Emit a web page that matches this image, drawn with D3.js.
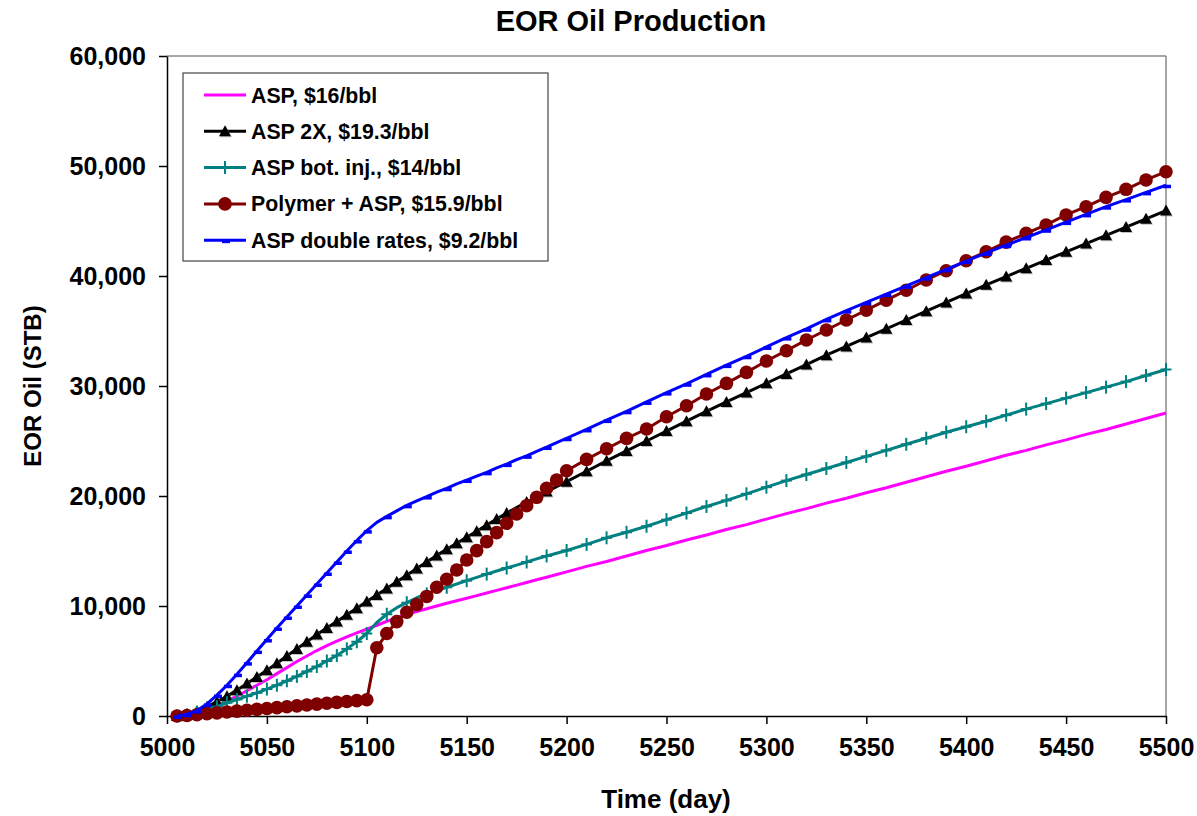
<!DOCTYPE html>
<html><head><meta charset="utf-8">
<script src="https://cdn.jsdelivr.net/npm/d3@7"></script>
<style>
body{margin:0;background:#fff}
svg{display:block}
text{font-family:Arial,"Liberation Sans",sans-serif;font-weight:bold;fill:#000}
</style>
</head><body>
<svg id="chart" width="1197" height="816"></svg>
<script>
const days = [
5005,5010,5015,5020,5025,5030,5035,5040,5045,5050,
5055,5060,5065,5070,5075,5080,5085,5090,5095,5100,
5105,5110,5115,5120,5125,5130,5135,5140,5145,5150,
5155,5160,5165,5170,5175,5180,5185,5190,5195,5200,
5210,5220,5230,5240,5250,5260,5270,5280,5290,5300,
5310,5320,5330,5340,5350,5360,5370,5380,5390,5400,
5410,5420,5430,5440,5450,5460,5470,5480,5490,5500];

const aspValues = [
0,100,300,600,950,1350,1800,2300,2800,3300,
3850,4400,4950,5450,5950,6400,6800,7200,7550,7900,
8250,8600,8950,9250,9500,9750,10000,10250,10480,10700,
10940,11180,11420,11660,11900,12140,12380,12620,12860,13100,
13600,14050,14550,15050,15500,16000,16450,16950,17400,17900,
18400,18850,19350,19800,20300,20750,21250,21750,22250,22700,
23200,23700,24150,24650,25100,25600,26050,26550,27050,27550];

const asp2xValues = [
0,150,450,850,1300,1800,2350,2950,3550,4150,
4800,5450,6100,6750,7400,8000,8600,9200,9800,10400,
11000,11600,12200,12800,13400,14000,14600,15150,15700,16250,
16800,17350,17900,18450,18950,19450,19900,20400,20850,21300,
22250,23200,24100,25000,25900,26800,27700,28550,29400,30250,
31100,31950,32800,33600,34400,35200,36000,36800,37600,38400,
39200,39950,40700,41450,42200,42950,43700,44450,45200,45950];

const botInjValues = [
0,100,300,550,850,1200,1500,1800,2100,2450,
2800,3200,3600,4050,4500,5000,5500,6100,6750,7500,
8500,9250,9850,10300,10750,11100,11400,11700,12000,12300,
12600,12900,13180,13450,13720,14000,14280,14550,14800,15050,
15600,16200,16700,17250,17850,18450,19050,19600,20200,20800,
21400,21950,22500,23050,23600,24150,24700,25250,25800,26300,
26800,27350,27900,28400,28900,29400,29900,30400,30950,31500];

const polymerValues = [
0,50,120,200,280,360,440,520,600,680,
760,840,920,1000,1080,1160,1240,1320,1400,1480,
6200,7500,8580,9430,10130,10870,11700,12430,13270,14180,
15030,15850,16670,17520,18360,19120,19880,20700,21450,22300,
23330,24300,25240,26090,27210,28210,29270,30240,31240,32270,
33210,34180,35090,36000,36900,37800,38700,39640,40480,41390,
42210,43080,43880,44640,45550,46300,47150,47880,48730,49480];

const doubleRateValues = [
0,150,500,1100,1900,2800,3800,4850,5900,6950,
8000,9000,10000,11000,12000,13000,14000,15000,15950,16850,
17600,18150,18650,19150,19550,19950,20350,20700,21100,21450,
21800,22150,22550,22900,23300,23650,24050,24450,24850,25250,
26050,26900,27700,28550,29400,30200,31050,31900,32700,33550,
34400,35200,36050,36850,37600,38350,39100,39850,40600,41350,
42100,42800,43500,44200,44900,45600,46300,46950,47600,48250];

const seriesNames = ["ASP, $16/bbl","ASP 2X, $19.3/bbl","ASP bot. inj., $14/bbl","Polymer + ASP, $15.9/bbl","ASP double rates, $9.2/bbl"];
const xTicks = [5000,5050,5100,5150,5200,5250,5300,5350,5400,5450,5500];
const yTicks = [0,10000,20000,30000,40000,50000,60000];

const series = [
  {name:seriesNames[0], values:aspValues, color:"#FF00FF", marker:"none", fineUntil:0},
  {name:seriesNames[1], values:asp2xValues, color:"#000000", marker:"triangle", fineUntil:5170},
  {name:seriesNames[2], values:botInjValues, color:"#008080", marker:"cross", fineUntil:5100},
  {name:seriesNames[3], values:polymerValues, color:"#800000", marker:"circle", fineUntil:5200},
  {name:seriesNames[4], values:doubleRateValues, color:"#0000FF", marker:"dash", fineUntil:5100}
];

const svg = d3.select("#chart");
svg.append("rect").attr("width",1197).attr("height",816).attr("fill","#fff");

const x = d3.scaleLinear().domain([5000,5500]).range([167,1166]);
const y = d3.scaleLinear().domain([0,60000]).range([716,56]);

// plot frame (top/right grey)
svg.append("line").attr("x1",x(5000)).attr("x2",x(5500)).attr("y1",y(60000)).attr("y2",y(60000)).attr("stroke","#888").attr("stroke-width",1.5);
svg.append("line").attr("x1",x(5500)).attr("x2",x(5500)).attr("y1",y(60000)).attr("y2",y(0)).attr("stroke","#888").attr("stroke-width",1.5);

const yAxis = svg.append("g").attr("transform",`translate(${x(5000)},0)`)
  .call(d3.axisLeft(y).tickValues(yTicks).tickSize(8).tickSizeOuter(0).tickPadding(13).tickFormat(d3.format(",")));
const xAxis = svg.append("g").attr("transform",`translate(0,${y(0)})`)
  .call(d3.axisBottom(x).tickValues(xTicks).tickSize(8).tickSizeOuter(0).tickPadding(14).tickFormat(d3.format("d")));
[xAxis,yAxis].forEach(g=>{
  g.selectAll("path,line").attr("stroke","#000").attr("stroke-width",1.5);
  g.selectAll("text").style("font-size","25px").style("font-family","Arial, 'Liberation Sans', sans-serif").style("font-weight","bold").attr("fill","#000");
});

function drawMarker(g, type, color){
  if(type==="triangle"){
    g.append("path").attr("d","M1,-5 L7,6 L-5,6 Z").attr("fill","#999").attr("opacity",0.6);
    g.append("path").attr("d","M0,-6 L6,5 L-6,5 Z").attr("fill",color);
  } else if(type==="circle"){
    g.append("circle").attr("r",6.8).attr("fill",color);
  } else if(type==="cross"){
    g.append("line").attr("x1",0).attr("x2",0).attr("y1",-6.5).attr("y2",6.5).attr("stroke",color).attr("stroke-width",2);
    g.append("line").attr("x1",-5.5).attr("x2",5.5).attr("y1",0).attr("y2",0).attr("stroke",color).attr("stroke-width",2);
  } else if(type==="dash"){
    g.append("rect").attr("x",-3).attr("y",-0.5).attr("width",8).attr("height",3.5).attr("fill",color);
  }
}

const line = d3.line().x(d=>x(d[0])).y(d=>y(d[1]));
series.forEach(s=>{
  const pts = days.map((d,i)=>[d,s.values[i]]);
  svg.append("path").datum(pts).attr("d",line).attr("fill","none").attr("stroke",s.color).attr("stroke-width",3).attr("stroke-linejoin","round");
  if(s.marker!=="none"){
    pts.filter(p=>p[0]<=s.fineUntil || p[0]%10===0).forEach(p=>{
      const g = svg.append("g").attr("transform",`translate(${x(p[0])},${y(p[1])})`);
      drawMarker(g, s.marker, s.color);
    });
  }
});

// legend
const lg = svg.append("g");
lg.append("rect").attr("x",183).attr("y",73).attr("width",365).attr("height",188).attr("fill","#fff").attr("stroke","#444").attr("stroke-width",1.2);
series.forEach((s,i)=>{
  const yy = 95 + i*36.3;
  lg.append("line").attr("x1",204).attr("x2",246).attr("y1",yy).attr("y2",yy).attr("stroke",s.color).attr("stroke-width",3);
  const g = lg.append("g").attr("transform",`translate(225,${yy})`);
  drawMarker(g, s.marker, s.color);
  lg.append("text").attr("x",251).attr("y",yy+7.5).style("font-size","21.3px").text(s.name);
});

// titles
svg.append("text").attr("x",631).attr("y",31).attr("text-anchor","middle").style("font-size","29px").text("EOR Oil Production");
svg.append("text").attr("x",666).attr("y",808).attr("text-anchor","middle").style("font-size","26px").text("Time (day)");
svg.append("text").attr("transform","translate(41,386) rotate(-90)").attr("text-anchor","middle").style("font-size","24px").text("EOR Oil (STB)");
</script>
</body></html>
